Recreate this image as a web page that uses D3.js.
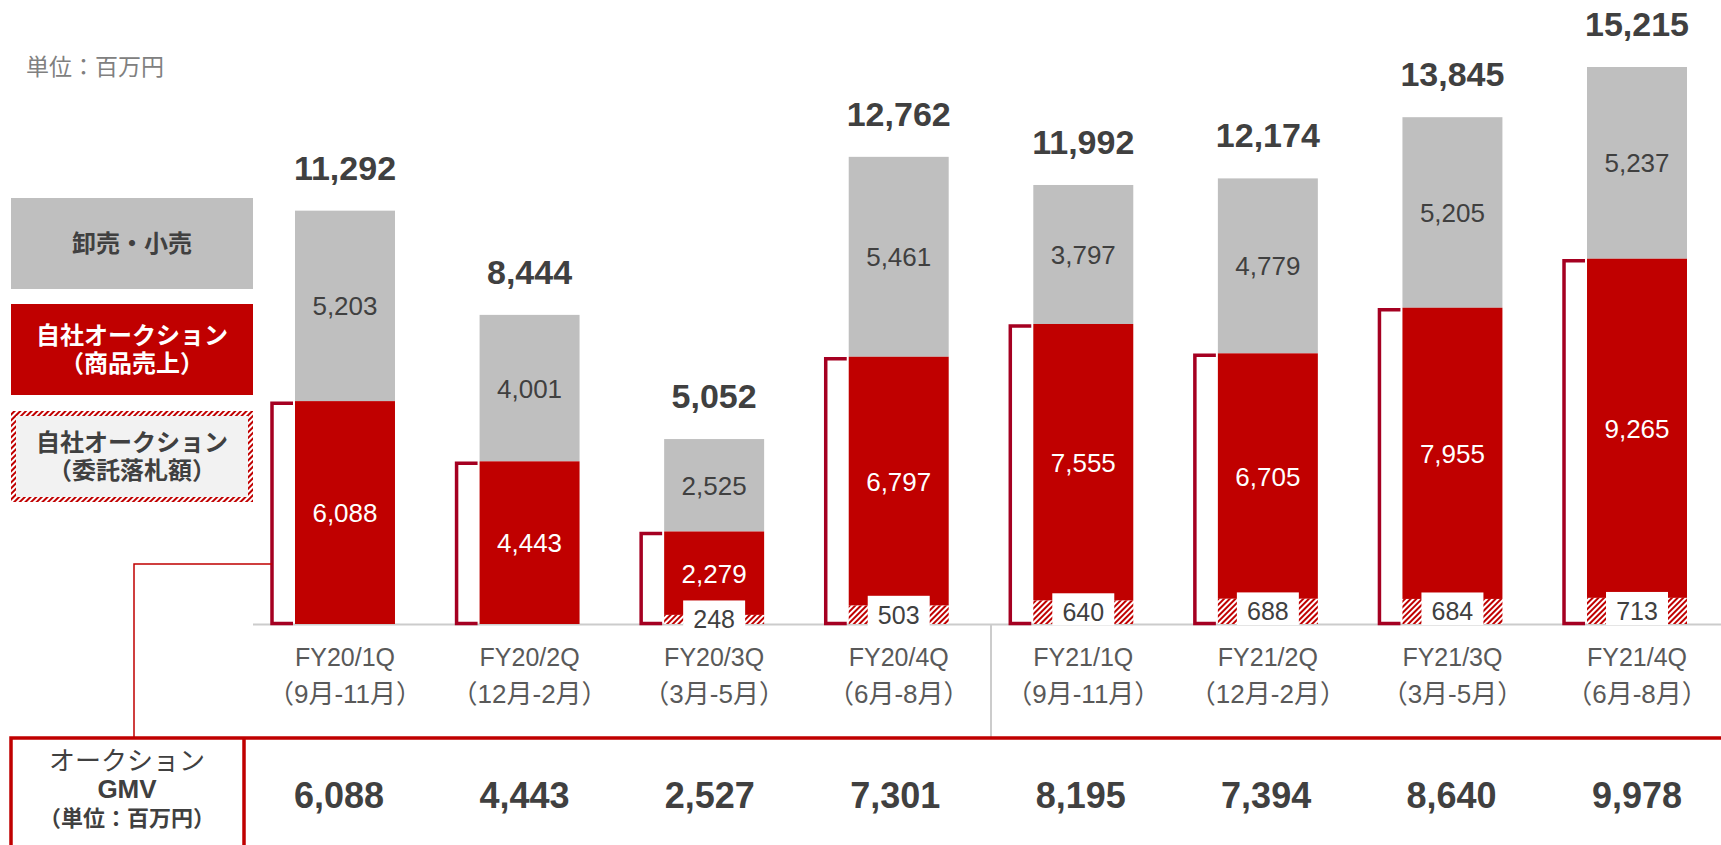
<!DOCTYPE html>
<html>
<head>
<meta charset="utf-8">
<script src="https://cdn.jsdelivr.net/npm/d3@7"></script>
<style>
  body { margin: 0; background: #fff; }
  svg { display: block; font-family: "Liberation Sans", "Noto Sans CJK JP", sans-serif; }
</style>
</head>
<body>
<svg width="1721" height="845"></svg>
<script>
// data
var quarters = ["FY20/1Q", "FY20/2Q", "FY20/3Q", "FY20/4Q", "FY21/1Q", "FY21/2Q", "FY21/3Q", "FY21/4Q"];
var months = ["（9月-11月）", "（12月-2月）", "（3月-5月）", "（6月-8月）", "（9月-11月）", "（12月-2月）", "（3月-5月）", "（6月-8月）"];
var consign = [0, 0, 248, 503, 640, 688, 684, 713];       // 自社オークション（委託落札額）
var auction = [6088, 4443, 2279, 6797, 7555, 6705, 7955, 9265]; // 自社オークション（商品売上）
var retail = [5203, 4001, 2525, 5461, 3797, 4779, 5205, 5237];  // 卸売・小売
var totals = [11292, 8444, 5052, 12762, 11992, 12174, 13845, 15215];
var gmv = [6088, 4443, 2527, 7301, 8195, 7394, 8640, 9978];

var red = "#c00000", grey = "#bfbfbf", dark = "#404040", bracketColor = "#a50021";

var svg = d3.select("svg");

var rows = quarters.map(function(q, i) {
  return {q: q, m: months[i], c: consign[i], a: auction[i], r: retail[i], t: totals[i], g: gmv[i]};
});

var x = d3.scaleBand().domain(quarters).range([295, 1687]).paddingInner(0.4583).paddingOuter(0);
var y = d3.scaleLinear().domain([0, 15215]).range([624, 67]);
var bw = x.bandwidth();
// table columns are spaced a little wider than the bars
var xt = d3.scalePoint().domain(quarters).range([339, 1637]);

// hatch pattern
var defs = svg.append("defs");
defs.append("pattern")
  .attr("id", "hatch")
  .attr("patternUnits", "userSpaceOnUse")
  .attr("width", 4).attr("height", 4)
  .attr("patternTransform", "rotate(45)")
  .call(function(p) {
    p.append("rect").attr("width", 4).attr("height", 4).attr("fill", "#fff");
    p.append("rect").attr("width", 2).attr("height", 4).attr("fill", red);
  });

// unit label
svg.append("text")
  .attr("x", 26).attr("y", 75)
  .style("font-size", "23px").style("fill", "#808080")
  .text("単位：百万円");

// legend
var legend = [
  {y: 198, fill: grey, color: dark, lines: ["卸売・小売"]},
  {y: 304, fill: red, color: "#fff", lines: ["自社オークション", "（商品売上）"]},
  {y: 411, fill: "#f2f2f2", color: dark, lines: ["自社オークション", "（委託落札額）"], hatch: true}
];
var lg = svg.selectAll(".legend").data(legend).enter().append("g").attr("class", "legend");
lg.append("rect")
  .attr("x", function(d) { return d.hatch ? 13.5 : 11; })
  .attr("y", function(d) { return d.hatch ? d.y + 2.5 : d.y; })
  .attr("width", function(d) { return d.hatch ? 237 : 242; })
  .attr("height", function(d) { return d.hatch ? 86 : 91; })
  .attr("fill", function(d) { return d.fill; })
  .attr("stroke", function(d) { return d.hatch ? "url(#hatch)" : "none"; })
  .attr("stroke-width", 5);
lg.each(function(d) {
  var g = d3.select(this);
  var n = d.lines.length;
  d.lines.forEach(function(l, k) {
    g.append("text")
      .attr("x", 132)
      .attr("y", d.y + 45.5 + (k - (n - 1) / 2) * 28 + 8.5)
      .attr("text-anchor", "middle")
      .style("font-size", "24px").style("font-weight", "bold")
      .style("fill", d.color)
      .text(l);
  });
});

// baseline and separator
svg.append("line")
  .attr("x1", 253).attr("x2", 1721).attr("y1", y(0) + 0.5).attr("y2", y(0) + 0.5)
  .attr("stroke", "#cccccc").attr("stroke-width", 2);
var sepX = (x(quarters[3]) + bw + x(quarters[4])) / 2;
svg.append("line")
  .attr("x1", sepX).attr("x2", sepX).attr("y1", y(0)).attr("y2", 737)
  .attr("stroke", "#cccccc").attr("stroke-width", 2);

// brackets
svg.selectAll(".bracket").data(rows).enter().append("path")
  .attr("class", "bracket")
  .attr("d", function(d) {
    var l = x(d.q) - 23, top = y(d.c + d.a) + 2;
    return "M" + (x(d.q) - 2) + "," + top + "H" + l + "V" + (y(0) - 0.5) + "H" + (x(d.q) - 2);
  })
  .attr("fill", "none").attr("stroke", bracketColor).attr("stroke-width", 3.5);

// bars
var bars = svg.selectAll(".bar").data(rows).enter().append("g").attr("class", "bar");
bars.append("rect")
  .attr("x", function(d) { return x(d.q); })
  .attr("y", function(d) { return y(d.c + d.a + d.r); })
  .attr("width", bw)
  .attr("height", function(d) { return y(d.c + d.a) - y(d.c + d.a + d.r); })
  .attr("fill", grey);
bars.append("rect")
  .attr("x", function(d) { return x(d.q); })
  .attr("y", function(d) { return y(d.c + d.a); })
  .attr("width", bw)
  .attr("height", function(d) { return y(d.c) - y(d.c + d.a); })
  .attr("fill", red);
bars.filter(function(d) { return d.c > 0; }).append("rect")
  .attr("x", function(d) { return x(d.q); })
  .attr("y", function(d) { return y(d.c); })
  .attr("width", bw)
  .attr("height", function(d) { return y(0) - y(d.c); })
  .attr("fill", "url(#hatch)");

// white boxes on hatched parts
var hb = bars.filter(function(d) { return d.c > 0; });
hb.append("rect")
  .attr("x", function(d) { return x(d.q) + 19; })
  .attr("y", function(d) { return (y(0) + y(d.c)) / 2 - 19; })
  .attr("width", bw - 38)
  .attr("height", function(d) { return Math.max(y(0) + 1 - ((y(0) + y(d.c)) / 2 - 19), 32); })
  .attr("fill", "#fff");
hb.append("text")
  .attr("x", function(d) { return x(d.q) + bw / 2; })
  .attr("y", function(d) { return (y(0) + y(d.c)) / 2 + 9; })
  .attr("text-anchor", "middle")
  .style("font-size", "25px").style("fill", dark)
  .text(function(d) { return d3.format(",")(d.c); });

// segment labels
bars.append("text")
  .attr("x", function(d) { return x(d.q) + bw / 2; })
  .attr("y", function(d) { return (y(d.c + d.a) + y(d.c + d.a + d.r)) / 2 + 9.5; })
  .attr("text-anchor", "middle")
  .style("font-size", "26px").style("fill", dark)
  .text(function(d) { return d3.format(",")(d.r); });
bars.append("text")
  .attr("x", function(d) { return x(d.q) + bw / 2; })
  .attr("y", function(d) { return (y(d.c) + y(d.c + d.a)) / 2 + 9.5; })
  .attr("text-anchor", "middle")
  .style("font-size", "26px").style("fill", "#fff")
  .text(function(d) { return d3.format(",")(d.a); });

// totals
bars.append("text")
  .attr("x", function(d) { return x(d.q) + bw / 2; })
  .attr("y", function(d) { return y(d.t) - 31; })
  .attr("text-anchor", "middle")
  .style("font-size", "34px").style("font-weight", "bold").style("fill", dark)
  .text(function(d) { return d3.format(",")(d.t); });

// x axis
var xAxis = svg.append("g")
  .attr("transform", "translate(0," + y(0) + ")")
  .call(d3.axisBottom(x).tickSize(0).tickPadding(0));
xAxis.select(".domain").remove();
xAxis.selectAll(".tick text").each(function(d, i) {
  var t = d3.select(this);
  t.text(null).attr("y", 0).attr("dy", null)
    .style("font-family", "Liberation Sans, Noto Sans CJK JP, sans-serif")
    .style("fill", "#595959");
  t.append("tspan").attr("x", 0).attr("y", 42).style("font-size", "25px").text(d);
  t.append("tspan").attr("x", 0).attr("y", 79).style("font-size", "26px").text(months[i]);
});

// connector from first bracket to table
svg.append("path")
  .attr("d", "M" + (x(quarters[0]) - 23) + ",564H134V737")
  .attr("fill", "none").attr("stroke", red).attr("stroke-width", 1.5);

// GMV table
svg.append("path")
  .attr("d", "M1721,738H11V845M244,738V845")
  .attr("fill", "none").attr("stroke", red).attr("stroke-width", 3.5);
var head = [
  {t: "オークション", y: 770, s: 26, w: "normal"},
  {t: "GMV", y: 798, s: 26, w: "bold"},
  {t: "（単位：百万円）", y: 826, s: 22, w: "bold"}
];
svg.selectAll(".head").data(head).enter().append("text")
  .attr("x", 127).attr("y", function(d) { return d.y; })
  .attr("text-anchor", "middle")
  .style("font-size", function(d) { return d.s + "px"; })
  .style("font-weight", function(d) { return d.w; })
  .style("fill", dark)
  .text(function(d) { return d.t; });
svg.selectAll(".gmv").data(rows).enter().append("text")
  .attr("x", function(d) { return xt(d.q); })
  .attr("y", 808)
  .attr("text-anchor", "middle")
  .style("font-size", "36px").style("font-weight", "bold").style("fill", dark)
  .text(function(d) { return d3.format(",")(d.g); });
</script>
</body>
</html>
